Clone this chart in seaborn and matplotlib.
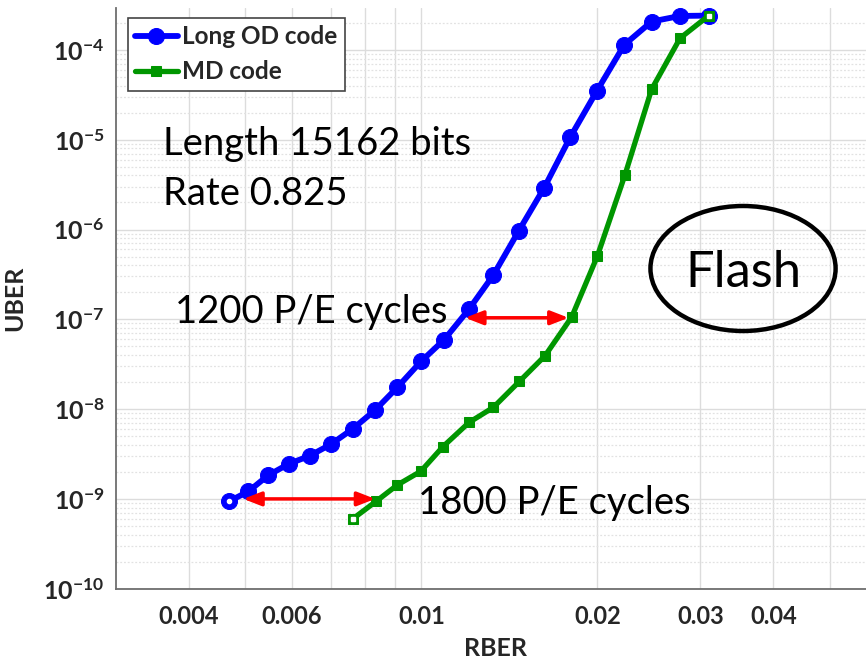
import numpy as np
import pandas as pd
import matplotlib
matplotlib.use("Agg")
import matplotlib.pyplot as plt
import seaborn as sns
from matplotlib.patches import Ellipse
from matplotlib.ticker import FixedLocator, NullFormatter, LogLocator

# ---------------- data ----------------
od_rber = [0.00469, 0.00506, 0.00547, 0.00593, 0.00645, 0.00700, 0.00763, 0.00834,
           0.00910, 0.00999, 0.01094, 0.01207, 0.01328, 0.01468, 0.01623, 0.01798,
           0.01998, 0.02224, 0.02477, 0.02770, 0.03101]
od_uber = [9.4e-10, 1.21e-9, 1.83e-9, 2.45e-9, 3.03e-9, 4.05e-9, 6.01e-9, 9.77e-9,
           1.75e-8, 3.40e-8, 5.92e-8, 1.30e-7, 3.11e-7, 9.68e-7, 2.93e-6, 1.07e-5,
           3.52e-5, 1.14e-4, 2.07e-4, 2.39e-4, 2.41e-4]
md_rber = [0.00763, 0.00837, 0.00910, 0.00998, 0.01089, 0.01207, 0.01328, 0.01471,
           0.01628, 0.01808, 0.02001, 0.02230, 0.02477, 0.02770, 0.03101]
md_uber = [5.98e-10, 9.4e-10, 1.43e-9, 2.03e-9, 3.82e-9, 7.11e-9, 1.045e-8, 2.03e-8,
           3.93e-8, 1.06e-7, 5.09e-7, 4.06e-6, 3.65e-5, 1.35e-4, 2.41e-4]
series_names = ["Long OD code", "MD code"]

x_ticks = [0.004, 0.005, 0.006, 0.007, 0.008, 0.009, 0.01, 0.02, 0.03, 0.04, 0.05]
x_labels = ["0.004", "", "0.006", "", "", "", "0.01", "0.02", "0.03", "0.04", ""]
y_exps = [-10, -9, -8, -7, -6, -5, -4]

arrow_1200 = ([0.01188, 0.01786], 1.04e-7)
arrow_1800 = ([0.00496, 0.00834], 1.0e-9)

# ---------------- style ----------------
sns.set_theme(style="white")
plt.rcParams["font.family"] = ["Lato", "DejaVu Sans"]
plt.rcParams["mathtext.fontset"] = "custom"
plt.rcParams["mathtext.rm"] = "Lato"
plt.rcParams["mathtext.bf"] = "Lato:bold"

fig = plt.figure(figsize=(8.66, 6.61), dpi=100)
W, H = 866, 661
l, r, t, b = 115.6, 876.3, 8.0, 588.7
ax = fig.add_axes([l / W, 1 - b / H, (r - l) / W, (b - t) / H])
ax.set_xscale("log")
ax.set_yscale("log")

df_od = pd.DataFrame({"RBER": od_rber, "UBER": od_uber})
df_md = pd.DataFrame({"RBER": md_rber, "UBER": md_uber})
blue = "#0000FF"
green = "#009600"
sns.lineplot(data=df_od, x="RBER", y="UBER", ax=ax, color=blue, lw=4.2,
             marker="o", markersize=11.5, markeredgecolor=blue, markerfacecolor=blue,
             label=series_names[0], zorder=3)
sns.lineplot(data=df_md, x="RBER", y="UBER", ax=ax, color=green, lw=3.8,
             marker="s", markersize=7.5, markeredgecolor=green, markerfacecolor=green,
             label=series_names[1], zorder=4)
# hollow centres seen on end markers
ax.plot([od_rber[0]], [od_uber[0]], "o", color="white", ms=3, zorder=5)
ax.plot([md_rber[0], md_rber[-1]], [md_uber[0], md_uber[-1]], "s", color="white", ms=3, zorder=5)

ax.set_xlim(0.003, 0.06)
ax.set_ylim(1e-10, 2.93e-4)

# ticks & grid
ax.xaxis.set_major_locator(FixedLocator(x_ticks))
ax.set_xticklabels(x_labels)
ax.xaxis.set_minor_locator(FixedLocator([]))
ax.xaxis.set_minor_formatter(NullFormatter())
ax.yaxis.set_major_locator(FixedLocator([10.0 ** e for e in y_exps]))
ax.set_yticklabels([r"$\mathbf{10^{%d}}$" % e for e in y_exps])
ax.yaxis.set_minor_locator(LogLocator(base=10, subs=np.arange(2, 10), numticks=20))
ax.yaxis.set_minor_formatter(NullFormatter())

tick_col = "#262626"
ax.tick_params(axis="both", which="both", direction="in", colors="#555555",
               labelcolor=tick_col)
ax.tick_params(axis="x", which="major", length=6, width=1, pad=12, labelsize=17)
ax.tick_params(axis="y", which="major", length=6, width=1, pad=8, labelsize=18)
ax.tick_params(axis="y", which="minor", length=3, width=0.8)
for lab in ax.get_xticklabels():
    lab.set_fontweight("bold")

ax.grid(True, which="major", axis="both", color="#dcdcdc", lw=1.0, ls="-")
ax.grid(True, which="minor", axis="y", color="#e2e2e2", lw=0.9, ls=(0, (1.5, 1.5)))
ax.set_axisbelow(True)

for s in ["top", "right"]:
    ax.spines[s].set_visible(False)
for s in ["left", "bottom"]:
    ax.spines[s].set_color("#6e6e6e")
    ax.spines[s].set_linewidth(1.3)

ax.set_xlabel("RBER", fontsize=18, fontweight="bold", color=tick_col, labelpad=6)
ax.set_ylabel("UBER", fontsize=18, fontweight="bold", color=tick_col, labelpad=12)

# legend
leg = ax.legend(loc="upper left", bbox_to_anchor=(0.016, 0.9828), borderaxespad=0,
                prop={"weight": "bold", "size": 17.5}, handlelength=1.75,
                handletextpad=0.2, borderpad=0.3, labelspacing=0.5,
                fancybox=False, framealpha=1, edgecolor="#444444")
leg.get_frame().set_linewidth(1.2)

# annotations
txt_size = 27.5
ax.text(0.003615, 6.78e-6, "Length 15162 bits", fontsize=txt_size, color="black",
        ha="left", va="baseline")
ax.text(0.003615, 1.88e-6, "Rate 0.825", fontsize=txt_size, color="black",
        ha="left", va="baseline")
ax.text(0.003792, 9.15e-8, "1200 P/E cycles", fontsize=txt_size, color="black",
        ha="left", va="baseline", zorder=6)
ax.text(0.00987, 6.85e-10, "1800 P/E cycles", fontsize=txt_size, color="black",
        ha="left", va="baseline", zorder=6)
ax.text(0.03557, 2.29e-7, "Flash", fontsize=36.5, color="black",
        ha="center", va="baseline")

ell = Ellipse((0.8248, 0.5514), 0.2434, 0.2153, transform=ax.transAxes,
              fill=False, edgecolor="black", lw=3.2)
ax.add_patch(ell)

for xs, yv in (arrow_1200, arrow_1800):
    ax.annotate("", xy=(xs[1], yv), xytext=(xs[0], yv),
                arrowprops=dict(arrowstyle="<|-|>,head_length=0.9,head_width=0.35",
                                color="red", lw=2.5, shrinkA=0, shrinkB=0),
                zorder=6)

fig.savefig("out.png", dpi=100)
